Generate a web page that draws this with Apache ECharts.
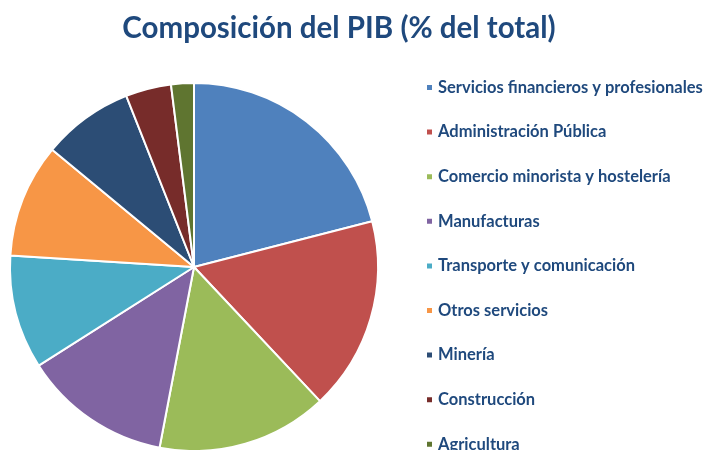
<!DOCTYPE html>
<html lang="es">
<head>
  <meta charset="UTF-8">
  <title>Composición del PIB</title>
  <script src="https://cdn.jsdelivr.net/npm/echarts@6.0.0/dist/echarts.min.js"></script>
  <style>
    body { margin: 0; padding: 0; background: #fff; }
    #chart { width: 705px; height: 450px; }
  </style>
</head>
<body>
<div id="chart"></div>
<script>
  // sectores y su peso en el PIB (%)
  const sectores = [
    'Servicios financieros y profesionales',
    'Administración Pública',
    'Comercio minorista y hostelería',
    'Manufacturas',
    'Transporte y comunicación',
    'Otros servicios',
    'Minería',
    'Construcción',
    'Agricultura'
  ];
  const valores = [21, 17, 15, 13, 10, 10, 8, 4, 2];
  const colores = ['#4F81BD', '#C0504D', '#9BBB59', '#8064A2', '#4BACC6',
                   '#F79646', '#2C4D75', '#772C2A', '#5F7530'];

  const chart = echarts.init(document.getElementById('chart'));

  const option = {
    animation: false,
    color: colores,
    title: {
      text: 'Composición del PIB (% del total)',
      left: 334,
      top: 8,
      textAlign: 'center',
      textStyle: {
        fontFamily: 'Lato',
        fontWeight: 'bold',
        fontSize: 29.5,
        color: '#1F497D'
      }
    },
    legend: {
      orient: 'vertical',
      left: 425,
      top: 79,
      height: 420,
      padding: 0,
      itemWidth: 7,
      itemHeight: 7,
      itemGap: 27.6,
      icon: 'rect',
      textStyle: {
        fontFamily: 'Lato',
        fontWeight: 'bold',
        fontSize: 16.5,
        lineHeight: 14,
        color: '#1F497D'
      },
      data: sectores
    },
    series: [
      {
        type: 'pie',
        center: [194, 267],
        radius: 184,
        startAngle: 90,
        clockwise: true,
        label: { show: false },
        labelLine: { show: false },
        itemStyle: { borderColor: '#fff', borderWidth: 2 },
        emphasis: { disabled: true },
        data: sectores.map((s, i) => ({ name: s, value: valores[i] }))
      }
    ]
  };

  chart.setOption(option);
</script>
</body>
</html>
